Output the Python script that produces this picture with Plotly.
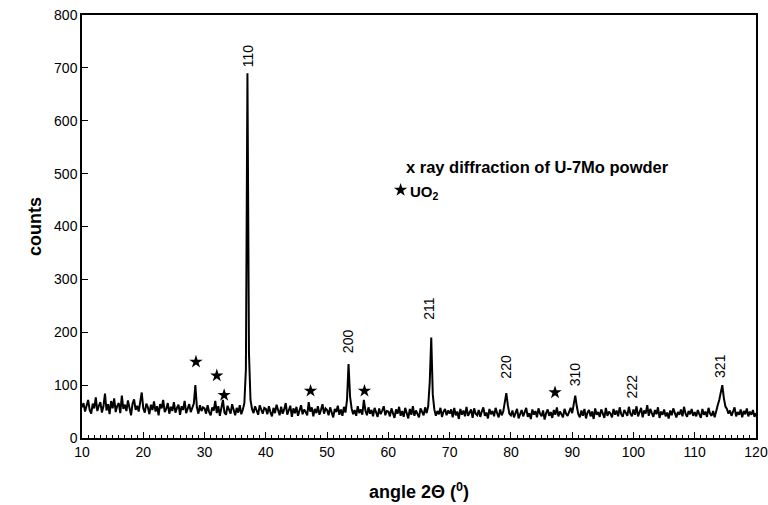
import numpy as np
import plotly.graph_objects as go

# --- data (2-theta grid 10..120 deg, step 0.25) ---
angle_start = 10.0
angle_step = 0.25

counts_10_20 = [58, 66, 50, 62, 72, 53, 46, 65, 56, 77, 51, 61, 68, 48, 60, 84, 52, 64, 45, 70,
                56, 75, 49, 61, 66, 47, 80, 55, 63, 51, 71, 57, 43, 65, 73, 53, 61, 50, 68, 86]
counts_20_30 = [56, 48, 65, 58, 45, 63, 53, 69, 50, 60, 43, 64, 56, 72, 49, 55, 66, 46, 59, 51,
                68, 48, 57, 63, 44, 60, 53, 70, 47, 57, 64, 49, 58, 65, 100, 58, 46, 62, 51, 58]
counts_30_40 = [56, 46, 62, 49, 43, 58, 52, 70, 47, 60, 42, 56, 72, 48, 44, 61, 51, 46, 64, 53,
                43, 57, 48, 62, 45, 54, 66, 130, 690, 160, 72, 55, 47, 60, 51, 44, 62, 52, 46, 57]
counts_40_50 = [55, 45, 60, 49, 41, 57, 47, 63, 51, 43, 59, 46, 54, 66, 44, 52, 61, 40, 56, 47,
                59, 42, 53, 62, 45, 54, 49, 43, 68, 50, 58, 41, 55, 47, 60, 44, 53, 64, 46, 56]
counts_50_60 = [53, 43, 58, 47, 39, 55, 49, 61, 44, 54, 42, 59, 48, 72, 140, 78, 56, 45, 53, 42,
                60, 47, 54, 44, 72, 52, 43, 58, 46, 53, 41, 57, 48, 40, 56, 45, 52, 60, 43, 51]
counts_60_70 = [50, 41, 56, 45, 38, 54, 46, 59, 42, 51, 40, 57, 47, 37, 55, 44, 60, 42, 52, 46,
                39, 56, 48, 43, 58, 47, 60, 105, 190, 82, 54, 42, 51, 45, 57, 40, 50, 55, 43, 52]
counts_70_80 = [46, 54, 39, 57, 43, 50, 36, 55, 44, 52, 41, 59, 42, 49, 54, 38, 56, 46, 43, 53,
                40, 50, 58, 42, 48, 37, 55, 45, 51, 41, 57, 47, 39, 54, 43, 50, 64, 85, 62, 46]
counts_80_90 = [43, 52, 39, 48, 55, 37, 47, 53, 41, 49, 57, 40, 47, 36, 54, 44, 51, 39, 56, 46,
                41, 52, 35, 47, 54, 42, 49, 38, 53, 44, 58, 41, 50, 45, 39, 55, 46, 42, 52, 57]
counts_90_100 = [47, 62, 80, 60, 45, 39, 52, 42, 55, 37, 48, 53, 41, 50, 36, 56, 44, 49, 40, 54,
                 45, 38, 57, 42, 50, 46, 39, 55, 44, 52, 41, 58, 45, 40, 53, 47, 42, 59, 46, 41]
counts_100_110 = [54, 44, 60, 41, 50, 57, 39, 52, 46, 62, 42, 55, 47, 40, 53, 45, 58, 38, 50, 44,
                  54, 41, 48, 37, 52, 43, 56, 45, 39, 49, 44, 54, 41, 59, 46, 40, 51, 45, 55, 42]
counts_110_120 = [49, 41, 53, 45, 38, 55, 44, 50, 40, 57, 46, 42, 51, 39, 54, 62, 72, 88, 100, 76,
                  60, 55, 46, 52, 42, 50, 58, 41, 49, 44, 54, 39, 51, 45, 56, 41, 50, 44, 53, 40, 47]

# peak (hkl) labels
hkl_labels = ["110", "200", "211", "220", "310", "222", "321"]
hkl_x = [37.1, 53.4, 66.6, 79.2, 90.5, 99.8, 114.1]
hkl_y = [722, 183, 246, 135, 121, 98, 136]

# UO2 star markers
star_x = [28.6, 32.0, 33.2, 47.3, 56.1, 87.2]
star_y = [144, 118, 81, 89, 89, 86]

# legend star
legend_star_x = [62.0]
legend_star_y = [469]

counts = (counts_10_20 + counts_20_30 + counts_30_40 + counts_40_50 + counts_50_60 +
          counts_60_70 + counts_70_80 + counts_80_90 + counts_90_100 + counts_100_110 +
          counts_110_120)
two_theta = angle_start + angle_step * np.arange(len(counts))

fig = go.Figure()
fig.add_trace(go.Scatter(x=two_theta, y=counts, mode="lines",
                         line=dict(color="black", width=2.0), showlegend=False,
                         hoverinfo="skip"))
fig.add_trace(go.Scatter(x=star_x + legend_star_x, y=star_y + legend_star_y, mode="markers",
                         marker=dict(symbol="star", size=10, color="black"),
                         showlegend=False, hoverinfo="skip"))

for lab, xx, yy in zip(hkl_labels, hkl_x, hkl_y):
    fig.add_annotation(x=xx, y=yy, text=lab, textangle=-90, showarrow=False,
                       xanchor="center", yanchor="middle",
                       font=dict(family="Liberation Sans, Arial", size=14, color="black"))

fig.add_annotation(x=62.6, y=512, text="x ray diffraction of U-7Mo powder", showarrow=False,
                   xanchor="left", yanchor="middle",
                   font=dict(family="Liberation Sans, Arial", size=16.5, color="black",
                             weight="bold"))
fig.add_annotation(x=63.2, y=464, text="UO<sub>2</sub>", showarrow=False,
                   xanchor="left", yanchor="middle",
                   font=dict(family="Liberation Sans, Arial", size=15, color="black",
                             weight="bold"))

axis_font = dict(family="Liberation Sans, Arial", size=14, color="black")
fig.update_xaxes(range=[10, 120], tick0=10, dtick=10, ticks="inside", ticklen=6,
                 tickwidth=1, tickcolor="black", automargin=False,
                 minor=dict(dtick=1, ticks="inside", ticklen=3, tickcolor="black"),
                 showline=True, linecolor="black", linewidth=1.5, mirror=True,
                 showgrid=False, zeroline=False, tickfont=axis_font,
                 title=dict(text="angle 2Θ (<sup>0</sup>)", standoff=27,
                            font=dict(family="Liberation Sans, Arial", size=18,
                                      color="black", weight="bold")))
fig.update_yaxes(range=[0, 800], tick0=0, dtick=100, ticks="inside", ticklen=6,
                 tickwidth=1, tickcolor="black", automargin=False,
                 showline=True, linecolor="black", linewidth=1.5, mirror=True,
                 showgrid=False, zeroline=False, tickfont=axis_font,
                 title=dict(text="counts", standoff=8,
                            font=dict(family="Liberation Sans, Arial", size=18,
                                      color="black", weight="bold")))

fig.update_layout(width=768, height=505, paper_bgcolor="white", plot_bgcolor="white",
                  margin=dict(l=82, r=12, t=15, b=67))

# remove the default 8 px page margin so the figure fills the window exactly
fig.write_html("out.html", config={"displayModeBar": False},
               post_script="document.body.style.margin='0';document.body.style.overflow='hidden';")
